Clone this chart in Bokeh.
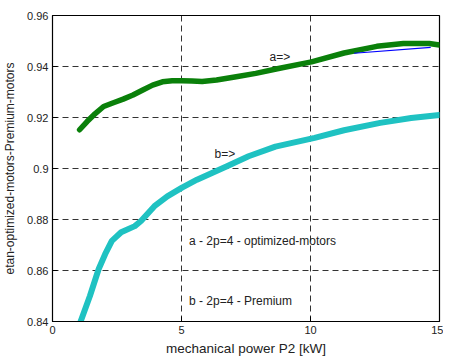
from bokeh.plotting import figure
from bokeh.models import Range1d, FixedTicker, Label
from bokeh.embed import file_html
from bokeh.resources import INLINE

# curve a (optimized motors) - thick green fit
a_x = [1.05, 1.34, 1.60, 1.98, 2.36, 2.74, 3.12, 3.50, 3.88, 4.26, 4.64, 5.02, 5.41, 5.80, 6.36, 7.12, 7.88, 8.76, 10.04, 11.3, 12.57, 13.6, 14.6, 15.0]
a_y = [0.9152, 0.9184, 0.9210, 0.9243, 0.9258, 0.9272, 0.9288, 0.9308, 0.9327, 0.9340, 0.9344, 0.9344, 0.9343, 0.9341, 0.9347, 0.9360, 0.9373, 0.9392, 0.9418, 0.9453, 0.9479, 0.9490, 0.9490, 0.9484]
# curve a raw data (thin blue) - visible at the end
a_raw_x = [11.69, 14.66]
a_raw_y = [0.9452, 0.9475]

# curve b (Premium motors) - thick cyan fit
b_x = [1.09, 1.45, 1.79, 2.04, 2.30, 2.66, 3.19, 3.43, 3.95, 4.45, 5.02, 5.60, 6.74, 7.60, 8.64, 10.16, 11.3, 12.7, 13.9, 15.0]
b_y = [0.8400, 0.8500, 0.8606, 0.8664, 0.8716, 0.8750, 0.8774, 0.8794, 0.8852, 0.8891, 0.8925, 0.8956, 0.9008, 0.9048, 0.9086, 0.9120, 0.9150, 0.9179, 0.9198, 0.9210]
# curve b raw data (thin red)
b_raw_x = [2.30, 2.66, 3.0]
b_raw_y = [0.8708, 0.8742, 0.8760]

x_ticks = [0, 5, 10, 15]
y_ticks = [0.84, 0.86, 0.88, 0.90, 0.92, 0.94, 0.96]
y_tick_labels = {0.84: "0.84", 0.86: "0.86", 0.88: "0.88", 0.90: "0.9", 0.92: "0.92", 0.94: "0.94", 0.96: "0.96"}

FONT = "Liberation Sans"

p = figure(width=443, height=358, output_backend="svg", toolbar_location=None,
           x_range=Range1d(0, 15), y_range=Range1d(0.84, 0.96),
           min_border_left=45, min_border_right=4, min_border_top=15, min_border_bottom=36)
p.background_fill_color = "white"
p.border_fill_color = "white"
p.outline_line_color = "black"
p.outline_line_width = 1.2

for ax in (p.xaxis[0], p.yaxis[0]):
    ax.major_tick_in = 5
    ax.major_tick_out = 0
    ax.minor_tick_line_color = None
    ax.axis_line_color = "black"
    ax.major_tick_line_color = "black"
    ax.major_label_text_font = FONT
    ax.major_label_text_font_size = "11px"
    ax.major_label_text_color = "#222222"
    ax.axis_label_text_font = FONT
    ax.axis_label_text_font_style = "normal"
    ax.axis_label_text_color = "#222222"

p.xaxis.ticker = FixedTicker(ticks=x_ticks)
p.yaxis.ticker = FixedTicker(ticks=y_ticks)
p.yaxis.major_label_overrides = y_tick_labels
p.xaxis.major_label_standoff = 4
p.yaxis.major_label_standoff = 4
p.xaxis.axis_label = "mechanical power P2 [kW]"
p.yaxis.axis_label = "etan-optimized-motors-Premium-motors"
p.xaxis.axis_label_text_font_size = "13.5px"
p.yaxis.axis_label_text_font_size = "12px"
p.xaxis.axis_label_standoff = 4
p.yaxis.axis_label_standoff = 7

for g in (p.xgrid[0], p.ygrid[0]):
    g.grid_line_color = "black"
    g.grid_line_dash = "6 4"
    g.grid_line_width = 1
    g.grid_line_alpha = 0.8

p.line(b_raw_x, b_raw_y, line_color="red", line_width=1)
p.line(b_x, b_y, line_color="#1FC2C2", line_width=6, line_join="round", line_cap="round")
p.line(a_x, a_y, line_color="#0A800A", line_width=5.5, line_join="round", line_cap="round")
p.line(a_raw_x, a_raw_y, line_color="blue", line_width=1.2)

for tx, ty, tt in [(8.41, 0.9437, "a=>"), (6.28, 0.9058, "b=>"),
                   (5.29, 0.8716, "a - 2p=4 - optimized-motors"),
                   (5.29, 0.8482, "b - 2p=4 - Premium")]:
    p.add_layout(Label(x=tx, y=ty, text=tt, text_font=FONT, text_font_size="12px",
                       text_color="#222222", text_baseline="middle", text_align="left"))

open("out.html", "w").write(file_html(p, INLINE))
